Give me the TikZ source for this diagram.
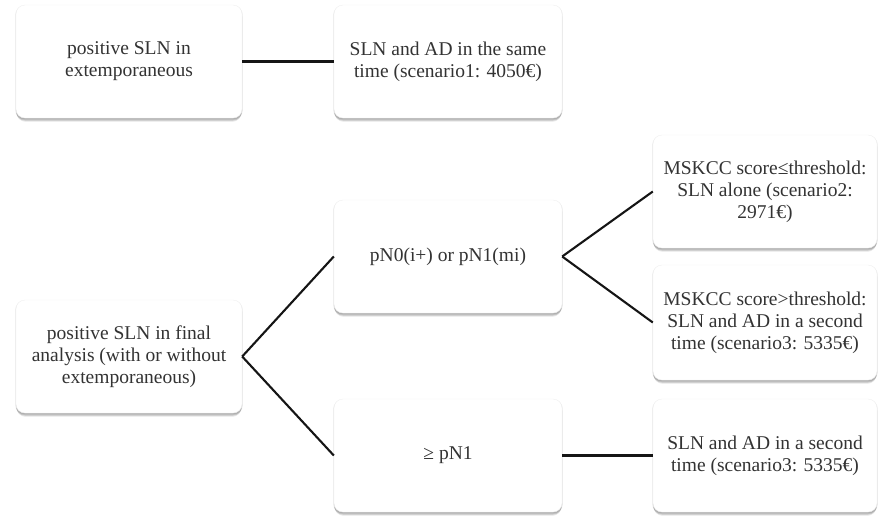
\documentclass[tikz,border=0pt]{standalone}
\usepackage{fontspec}
\setmainfont{Liberation Serif}
\usetikzlibrary{shadows}
\definecolor{txt}{HTML}{333333}
\definecolor{edge}{HTML}{151515}
\tikzset{
  softshadow/.style={
    drop shadow={shadow xshift=0pt, shadow yshift=-1pt, shadow scale=1.006, opacity=0.10, fill=black},
    drop shadow={shadow xshift=0pt, shadow yshift=-2.5pt, opacity=0.14, fill=black},
    drop shadow={shadow xshift=0pt, shadow yshift=-4pt, shadow scale=0.995, opacity=0.10, fill=black}},
  card/.style={rectangle, rounded corners=9pt, fill=white, draw=black!6, line width=0.4pt,
    minimum width=226pt, minimum height=113pt, inner sep=0pt,
    align=center, text=txt,
    font=\fontsize{19.5}{22}\selectfont, softshadow},
  link/.style={draw=edge, line width=2.1pt}
}
\begin{document}
\begin{tikzpicture}[x=1pt, y=-1pt]
  \useasboundingbox[fill=white] (0,0) rectangle (879,515);

  % top row
  \node[card] (ext) at (129,61.5) {positive SLN in\\extemporaneous};
  \node[card, minimum width=228pt] (same) at (448,61.5) {SLN and AD in the same\\time (scenario1: 4050€)};

  % lower tree
  \node[card] (final) at (129,356.5) {positive SLN in final\\analysis (with or without\\extemporaneous)};
  \node[card, minimum width=228pt] (pn0) at (448,256.5) {pN0(i+) or pN1(mi)};
  \node[card, minimum width=228pt] (pn1) at (448,455.5) {≥ pN1};
  \node[card, minimum width=224pt] (low) at (765,191.5) {MSKCC score≤threshold:\\SLN alone (scenario2:\\2971€)};
  \node[card, minimum width=224pt, minimum height=115pt] (high) at (765,322.5) {MSKCC score>threshold:\\SLN and AD in a second\\time (scenario3: 5335€)};
  \node[card, minimum width=224pt] (second) at (765,455.5) {SLN and AD in a second\\time (scenario3: 5335€)};

  % connectors
  \draw[link] (ext.east) -- (same.west);
  \draw[link] (final.east) -- (pn0.west);
  \draw[link] (final.east) -- (pn1.west);
  \draw[link] (pn0.east) -- (low.west);
  \draw[link] (pn0.east) -- (high.west);
  \draw[link] (pn1.east) -- (second.west);
\end{tikzpicture}
\end{document}
